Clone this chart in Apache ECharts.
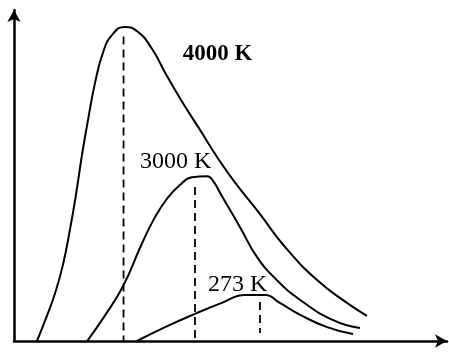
<!DOCTYPE html>
<html>
<head>
<meta charset="utf-8">
<script src="https://cdn.jsdelivr.net/npm/echarts@6/dist/echarts.min.js"></script>
<style>
html,body{margin:0;padding:0;background:#fff;}
#c{width:449px;height:360px;}
</style>
</head>
<body>
<div id="c"></div>
<script>
// Curve data (arbitrary units: wavelength 0-100, intensity 0-100)
var x4000 = [5.3, 7.4, 9.5, 11.3, 12.9, 14.3, 15.7, 17.1, 18.7, 20.6, 22.6, 25.6, 28.6, 31.9, 35.3, 39.0, 43.0, 46.9, 50.8, 56.6, 62.6, 70.0, 76.9, 81.5];
var y4000 = [0, 6.9, 14.5, 23.0, 33.5, 44.1, 56.2, 66.8, 77.9, 87.3, 92.4, 94.9, 93.4, 88.2, 80.1, 71.9, 63.7, 55.6, 48.3, 38.7, 28.4, 18.4, 11.5, 7.6];

var x3000 = [16.9, 20.8, 25.2, 29.6, 32.6, 35.3, 38.3, 41.1, 44.6, 46.0, 48.0, 52.2, 56.1, 60.7, 66.1, 73.7, 79.9];
var y3000 = [0, 7.3, 16.6, 29.6, 37.5, 42.9, 47.1, 49.5, 49.8, 48.3, 43.8, 34.4, 25.4, 18.4, 12.4, 6.3, 3.9];

var x273 = [28.4, 34.9, 41.8, 48.0, 53.3, 58.0, 61.4, 66.1, 72.3, 78.3];
var y273 = [0, 4.2, 8.2, 11.5, 13.9, 13.9, 11.5, 7.9, 4.2, 2.1];

// Peak (dashed) markers
var peakX = [25.3, 41.8, 56.8];
var peakTop = [92.0, 46.5, 11.8];
var peakBottom = [0, 0, 2.4];

// Labels
var labels = ['4000 K', '3000 K', '273 K'];
var labelX = [39.0, 29.1, 44.8];
var labelY = [83.1, 50.5, 13.3];

function pairs(xs, ys){ return xs.map(function(x,i){ return [x, ys[i]]; }); }

var chart = echarts.init(document.getElementById('c'), null, {renderer:'canvas'});
var curveStyle = {color:'#000', width:2};
function curve(xs, ys){
  return {type:'line', data:pairs(xs,ys), smooth:0.5, showSymbol:false, lineStyle:curveStyle, silent:true};
}
var series = [curve(x4000,y4000), curve(x3000,y3000), curve(x273,y273)];
peakX.forEach(function(px,i){
  series.push({type:'line', data:[[px,peakTop[i]],[px,peakBottom[i]]], showSymbol:false,
    lineStyle:{color:'#000', width:1.8, type:[8,5]}, silent:true});
});

chart.setOption({
  animation:false,
  backgroundColor:'#fff',
  grid:{left:14, right:2, top:10, bottom:19, containLabel:false},
  xAxis:{type:'value', min:0, max:100, axisLine:{show:true, lineStyle:{color:'#000', width:2.5}, symbol:['none','arrow'], symbolSize:[10,12]},
    axisTick:{show:false}, axisLabel:{show:false}, splitLine:{show:false}},
  yAxis:{type:'value', min:0, max:100, axisLine:{show:true, onZero:false, lineStyle:{color:'#000', width:2.5}, symbol:['none','arrow'], symbolSize:[10,12]},
    axisTick:{show:false}, axisLabel:{show:false}, splitLine:{show:false}},
  series:series
});

var fonts = ['bold 23px "Liberation Serif"', '24px "Liberation Serif"', '24px "Liberation Serif"'];
var g = labels.map(function(t,i){
  var p = chart.convertToPixel({gridIndex:0}, [labelX[i], labelY[i]]);
  return {type:'text', x:p[0], y:p[1], style:{text:t, font:fonts[i], fill:'#000', textAlign:'left', textVerticalAlign:'bottom'}};
});
chart.setOption({graphic:g});
</script>
</body>
</html>
